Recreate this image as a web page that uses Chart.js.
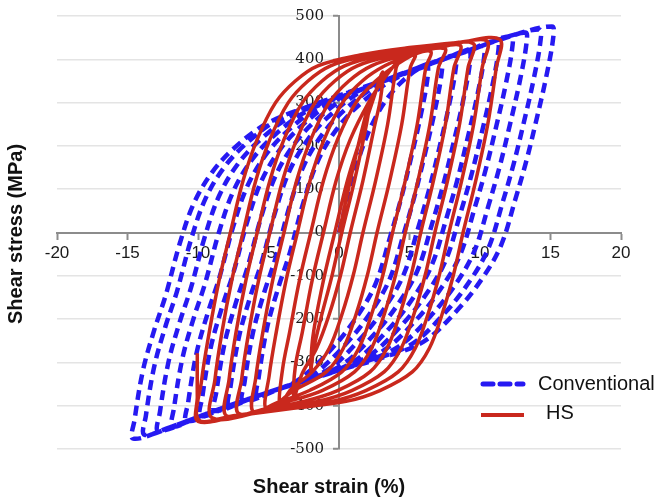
<!DOCTYPE html>
<html>
<head>
<meta charset="utf-8">
<script src="https://cdn.jsdelivr.net/npm/chart.js@4.4.1/dist/chart.umd.min.js"></script>
<style>
  html, body { margin: 0; padding: 0; background: #fff; }
</style>
</head>
<body>
<canvas id="hysteresisChart" width="661" height="497"></canvas>
<script>
const seriesNames = ['Conventional', 'HS']
const axisTitles = ['Shear strain (%)', 'Shear stress (MPa)']
const strainTicks = [-20, 20, 5]
const stressTicks = [-500, 500, 100]

// [shear strain %, shear stress MPa], in loading order
const hsCurve = [
  [0, 0], [0.8, 120], [1.5, 220], [2.2, 306],
  [1.95, 250], [1.1, 120], [0.2, 0], [-0.5, -100], [-1.3, -200], [-1.8, -270], [-2.0, -318],
  [-1.85, -240], [-1.1, -110], [-0.3, 0], [0.6, 120], [1.6, 225], [2.5, 315], [3.1, 371],
  [2.95, 310], [2.55, 250], [1.7, 120], [0.8, 0], [0.1, -100], [-0.7, -190], [-1.6, -268], [-2.6, -325], [-3.2, -380],
  [-3.1, -310], [-2.6, -230], [-1.9, -110], [-1.1, 0], [-0.2, 120], [0.8, 215], [2.1, 300], [3.3, 360], [4.3, 398],
  [4.05, 380], [3.45, 250], [2.6, 120], [1.7, 0], [1.0, -100], [0.2, -190], [-0.7, -268], [-1.9, -322], [-3.4, -362], [-4.2, -398],
  [-4.0, -315], [-3.5, -230], [-2.8, -110], [-2.0, 0], [-1.1, 120], [-0.1, 215], [1.2, 300], [2.6, 350], [4.2, 390], [5.4, 410],
  [5.05, 380], [4.45, 250], [3.6, 120], [2.7, 0], [2.0, -100], [1.2, -190], [0.3, -268], [-0.9, -322], [-3.2, -365], [-5.15, -407],
  [-4.95, -330], [-4.45, -230], [-3.75, -110], [-2.95, 0], [-2.05, 120], [-1.05, 215], [0.25, 300], [1.65, 350], [3.25, 385], [5.0, 408], [6.5, 418],
  [6.15, 380], [5.55, 250], [4.7, 120], [3.8, 0], [3.1, -100], [2.3, -190], [1.4, -268], [0.2, -322], [-2.1, -365], [-4.3, -392], [-6.1, -413],
  [-5.9, -335], [-5.4, -230], [-4.7, -110], [-3.9, 0], [-3.0, 120], [-2.0, 215], [-0.7, 300], [0.7, 350], [2.3, 385], [4.5, 408], [7.5, 425],
  [7.05, 380], [6.45, 250], [5.6, 120], [4.7, 0], [4.0, -100], [3.2, -190], [2.3, -268], [1.1, -322], [-1.2, -365], [-3.6, -390], [-7.1, -418],
  [-6.9, -338], [-6.4, -230], [-5.7, -110], [-4.9, 0], [-4.0, 120], [-3.0, 215], [-1.7, 300], [-0.3, 350], [1.3, 385], [4.0, 410], [6.5, 423], [8.6, 432],
  [8.15, 380], [7.55, 250], [6.7, 120], [5.8, 0], [5.1, -100], [4.3, -190], [3.4, -268], [2.2, -322], [-0.1, -365], [-2.5, -390], [-5.3, -408], [-8.0, -423],
  [-7.8, -340], [-7.3, -230], [-6.6, -110], [-5.8, 0], [-4.9, 120], [-3.9, 215], [-2.6, 300], [-1.2, 350], [0.4, 385], [3.0, 410], [6.0, 425], [9.5, 437],
  [9.15, 380], [8.55, 250], [7.7, 120], [6.8, 0], [6.1, -100], [5.3, -190], [4.4, -268], [3.2, -322], [0.9, -365], [-1.5, -390], [-5.0, -410], [-9.0, -428],
  [-8.8, -340], [-8.3, -230], [-7.6, -110], [-6.8, 0], [-5.9, 120], [-4.9, 215], [-3.6, 300], [-2.2, 350], [-0.6, 385], [2.0, 408], [5.5, 425], [8.0, 435], [10.5, 442],
  [10.15, 380], [9.55, 250], [8.7, 120], [7.8, 0], [7.1, -100], [6.3, -190], [5.4, -268], [4.2, -322], [1.9, -365], [-0.5, -390], [-4.5, -410], [-7.5, -423], [-9.95, -433],
  [-9.75, -343], [-9.2, -230], [-8.5, -110], [-7.7, 0], [-6.8, 120], [-5.8, 215], [-4.5, 300], [-3.1, 350], [-1.5, 385], [1.5, 410], [5.0, 427], [8.5, 439], [11.4, 446],
  [11.15, 380], [10.55, 250], [9.7, 120], [8.8, 0], [8.1, -100], [7.3, -190], [6.4, -268], [5.2, -322], [2.9, -365], [0.5, -390], [-3.5, -407], [-7.0, -422], [-10.0, -436],
  [-10.05, -380], [-10.05, -279]
]

// [shear strain %, shear stress MPa]
const conventionalCurve = [
  [0, 0], [1.2, 150], [2.5, 260], [4.2, 340], [6.2, 387],
  [6.3, 363], [5.8, 271], [5.1, 171], [4.4, 78], [3.6, -13], [2.6, -118], [1.3, -193], [-0.5, -268], [-2.9, -341], [-4.5, -364], [-5.8, -378],
  [-5.7, -335], [-5.1, -220], [-4.3, -127], [-3.5, -48], [-2.5, 72], [-1.5, 165], [-0.2, 237], [1.4, 294], [3.7, 350], [7.2, 398],
  [7.3, 374], [6.8, 282], [6.1, 182], [5.4, 89], [4.6, -2], [3.6, -107], [2.3, -182], [0.5, -257], [-1.9, -330], [-4.0, -358], [-6.8, -389],
  [-6.7, -346], [-6.1, -231], [-5.3, -138], [-4.5, -59], [-3.5, 61], [-2.5, 154], [-1.2, 226], [0.4, 283], [2.7, 339], [6.2, 385], [8.2, 409],
  [8.3, 385], [7.8, 293], [7.1, 193], [6.4, 100], [5.6, 9], [4.6, -96], [3.3, -171], [1.5, -246], [-0.9, -319], [-4.0, -358], [-6.0, -380], [-7.8, -400],
  [-7.7, -357], [-7.1, -242], [-6.3, -149], [-5.5, -70], [-4.5, 50], [-3.5, 143], [-2.2, 215], [-0.6, 272], [1.7, 328], [5.2, 374], [7.5, 401], [9.2, 420],
  [9.3, 396], [8.8, 304], [8.1, 204], [7.4, 111], [6.6, 20], [5.6, -85], [4.3, -160], [2.5, -235], [0.1, -308], [-3.0, -348], [-6.0, -380], [-8.8, -412],
  [-8.7, -369], [-8.1, -254], [-7.3, -161], [-6.5, -82], [-5.5, 38], [-4.5, 131], [-3.2, 203], [-1.6, 260], [0.7, 316], [4.2, 362], [7.5, 401], [10.2, 431],
  [10.3, 407], [9.8, 315], [9.1, 215], [8.4, 122], [7.6, 31], [6.6, -74], [5.3, -149], [3.5, -224], [1.1, -297], [-1.5, -333], [-5.0, -369], [-7.5, -397], [-9.8, -424],
  [-9.7, -381], [-9.1, -266], [-8.3, -173], [-7.5, -94], [-6.5, 26], [-5.5, 119], [-4.2, 191], [-2.6, 248], [-0.3, 304], [3.2, 350], [6.5, 391], [9.0, 418], [11.2, 443],
  [11.3, 419], [10.8, 327], [10.1, 227], [9.4, 134], [8.6, 43], [7.6, -62], [6.3, -137], [4.5, -212], [2.1, -285], [-1.0, -328], [-4.5, -364], [-8.0, -403], [-10.8, -436],
  [-10.7, -393], [-10.1, -278], [-9.3, -185], [-8.5, -106], [-7.5, 14], [-6.5, 107], [-5.2, 179], [-3.6, 236], [-1.3, 292], [2.2, 338], [6.0, 385], [9.5, 423], [12.2, 454],
  [12.3, 430], [11.8, 338], [11.1, 238], [10.4, 145], [9.6, 54], [8.6, -51], [7.3, -126], [5.5, -201], [3.1, -274], [0.0, -318], [-3.5, -353], [-7.0, -391], [-10.0, -426], [-11.8, -448],
  [-11.7, -405], [-11.1, -290], [-10.3, -197], [-9.5, -118], [-8.5, 2], [-7.5, 95], [-6.2, 167], [-4.6, 224], [-2.3, 280], [1.2, 326], [5.0, 373], [9.0, 418], [13.2, 462],
  [13.3, 438], [12.8, 346], [12.1, 246], [11.4, 153], [10.6, 62], [9.6, -43], [8.3, -118], [6.5, -193], [4.1, -266], [1.0, -307], [-2.5, -342], [-6.0, -380], [-9.5, -420], [-12.8, -458],
  [-12.7, -415], [-12.1, -300], [-11.3, -207], [-10.5, -128], [-9.5, -8], [-8.5, 85], [-7.2, 157], [-5.6, 214], [-3.3, 270], [0.2, 316], [4.0, 362], [8.0, 407], [11.5, 446], [14.2, 469],
  [14.3, 445], [13.8, 353], [13.1, 253], [12.4, 160], [11.6, 69], [10.6, -36], [9.3, -111], [7.5, -186], [5.1, -259], [2.0, -297], [-1.5, -333], [-5.0, -369], [-8.5, -408], [-11.5, -444], [-13.8, -467],
  [-13.7, -424], [-13.1, -309], [-12.3, -216], [-11.5, -137], [-10.5, -17], [-9.5, 76], [-8.2, 148], [-6.6, 205], [-4.3, 261], [-0.8, 307], [3.0, 350], [6.0, 385], [9.0, 418], [12.0, 452], [15.1, 476],
  [15.2, 452], [14.7, 360], [14.0, 260], [13.3, 167], [12.5, 76], [11.5, -29], [10.2, -104], [8.4, -179], [6.0, -252], [3.0, -290], [0.0, -318], [-3.0, -348], [-6.0, -380], [-9.0, -414], [-12.0, -450], [-14.6, -476],
  [-14.5, -433], [-13.9, -318], [-13.1, -225], [-12.3, -146], [-11.3, -26], [-10.3, 67], [-9.0, 139], [-7.4, 196], [-5.1, 252], [-1.6, 298], [1.5, 332]
]

const blue = '#2619f2'
const red = '#c9281d'
const axisGrey = '#8c8c8c'

function toPoints(curve){
  return curve.map(p => ({x: p[0], y: p[1]}))
}

// axis titles and the legend sit in odd places, so they are drawn by hand
const extrasPlugin = {
  id: 'extras',
  afterDraw(chart){
    const ctx = chart.ctx
    ctx.save()
    ctx.fillStyle = '#111'
    ctx.textBaseline = 'middle'

    ctx.font = 'bold 20px "Liberation Sans", Arial, sans-serif'
    ctx.textAlign = 'center'
    ctx.fillText(axisTitles[0], 329, 487)
    ctx.save()
    ctx.translate(16, 234)
    ctx.rotate(-Math.PI / 2)
    ctx.fillText(axisTitles[1], 0, 0)
    ctx.restore()

    ctx.lineCap = 'round'
    ctx.strokeStyle = blue
    ctx.lineWidth = 5
    ctx.setLineDash([10, 7])
    ctx.beginPath()
    ctx.moveTo(483, 384)
    ctx.lineTo(523, 384)
    ctx.stroke()

    ctx.setLineDash([])
    ctx.lineCap = 'butt'
    ctx.strokeStyle = red
    ctx.lineWidth = 4
    ctx.beginPath()
    ctx.moveTo(481, 415)
    ctx.lineTo(524, 415)
    ctx.stroke()

    ctx.font = '20px "Liberation Sans", Arial, sans-serif'
    ctx.textAlign = 'left'
    ctx.fillText(seriesNames[0], 538, 384)
    ctx.fillText(seriesNames[1], 546, 413)
    ctx.restore()
  }
}

function renderHysteresisChart(){
  new Chart(document.querySelector('#hysteresisChart'), {
    type: 'scatter',
    data: {
      datasets: [
        {
          label: seriesNames[1],
          data: toPoints(hsCurve),
          showLine: true,
          borderColor: red,
          borderWidth: 3.5,
          pointRadius: 0,
          tension: 0.35,
          fill: false
        },
        {
          label: seriesNames[0],
          data: toPoints(conventionalCurve),
          showLine: true,
          borderColor: blue,
          borderWidth: 4.5,
          borderDash: [10, 6],
          pointRadius: 0,
          tension: 0.35,
          fill: false
        }
      ]
    },
    options: {
      responsive: false,
      animation: false,
      devicePixelRatio: 1,
      layout: { padding: { left: 57, right: 40, top: 16, bottom: 48 } },
      plugins: { legend: { display: false }, tooltip: { enabled: false } },
      scales: {
        x: {
          type: 'linear',
          position: { y: 0 },
          min: strainTicks[0],
          max: strainTicks[1],
          ticks: {
            stepSize: strainTicks[2],
            color: '#1a1a1a',
            font: { family: '"Liberation Sans", Arial, sans-serif', size: 17 },
            padding: 5,
            maxRotation: 0
          },
          grid: { drawOnChartArea: false, drawTicks: true, tickLength: 6, tickColor: axisGrey, tickWidth: 2 },
          border: { color: axisGrey, width: 2 }
        },
        y: {
          type: 'linear',
          position: { x: 0 },
          min: stressTicks[0],
          max: stressTicks[1],
          ticks: {
            stepSize: stressTicks[2],
            color: '#1a1a1a',
            font: { family: '"DejaVu Serif", serif', size: 15 },
            // labels of a crossing axis hug the line, the em space pushes them off it
            callback: v => v + '\u2003'
          },
          grid: {
            color: ctx => (ctx.tick && ctx.tick.value === 0) ? 'rgba(0,0,0,0)' : '#e4e4e4',
            lineWidth: 1.5,
            tickLength: 5,
            tickColor: axisGrey,
            tickWidth: 2
          },
          border: { color: axisGrey, width: 2 }
        }
      }
    },
    plugins: [extrasPlugin]
  })
}

renderHysteresisChart()
</script>
</body>
</html>
